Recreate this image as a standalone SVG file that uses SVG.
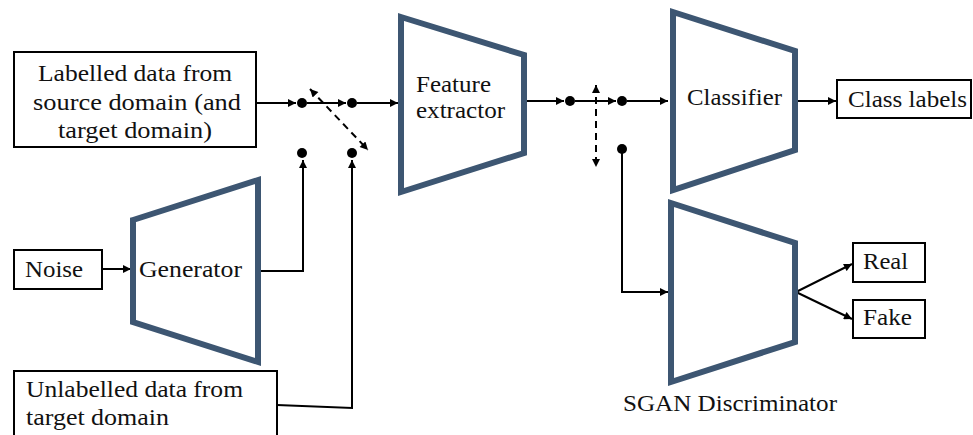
<svg xmlns="http://www.w3.org/2000/svg" width="973" height="435" viewBox="0 0 973 435">
  <defs>
    <marker id="arr" viewBox="0 0 10 10" refX="10" refY="5" markerWidth="9" markerHeight="8" markerUnits="userSpaceOnUse" orient="auto-start-reverse">
      <path d="M0,0 L10,5 L0,10 z" fill="#000"/>
    </marker>
    <style>
      .box { fill: #fff; stroke: #000; stroke-width: 2; }
      .trap { fill: #fff; stroke: #3d5672; stroke-width: 6; stroke-linejoin: miter; }
      .txt { font-family: "Liberation Serif", "DejaVu Serif", serif; font-size: 24px; fill: #111; }
      .ln { fill: none; stroke: #000; stroke-width: 2; }
      .dash { fill: none; stroke: #000; stroke-width: 2; stroke-dasharray: 7 5; }
      .dot { fill: #000; }
    </style>
  </defs>
  <rect width="973" height="435" fill="#fff"/>

  <!-- connectors -->
  <g id="connectors">
    <line class="ln" x1="256" y1="103" x2="296" y2="103" marker-end="url(#arr)"/>
    <line class="ln" x1="307" y1="103" x2="346" y2="103" marker-end="url(#arr)"/>
    <line class="ln" x1="357" y1="103" x2="398" y2="103" marker-end="url(#arr)"/>
    <line class="dash" x1="310" y1="89" x2="368" y2="150" marker-start="url(#arr)" marker-end="url(#arr)"/>
    <line class="ln" x1="102" y1="269" x2="131" y2="269" marker-end="url(#arr)"/>
    <polyline class="ln" points="258,271 303,271 303,160" marker-end="url(#arr)"/>
    <polyline class="ln" points="277,405 352,408 352,160" marker-end="url(#arr)"/>
    <line class="ln" x1="525" y1="101" x2="564" y2="101" marker-end="url(#arr)"/>
    <line class="ln" x1="575" y1="101" x2="616" y2="101" marker-end="url(#arr)"/>
    <line class="ln" x1="627" y1="101" x2="668" y2="101" marker-end="url(#arr)"/>
    <line class="dash" x1="596" y1="85" x2="596" y2="167" marker-start="url(#arr)" marker-end="url(#arr)"/>
    <polyline class="ln" points="622,150 622,292 668,292" marker-end="url(#arr)"/>
    <line class="ln" x1="797" y1="101" x2="836" y2="101" marker-end="url(#arr)"/>
    <line class="ln" x1="796" y1="292" x2="852" y2="264" marker-end="url(#arr)"/>
    <line class="ln" x1="796" y1="292" x2="852" y2="319" marker-end="url(#arr)"/>
    <circle class="dot" cx="302" cy="103" r="5"/>
    <circle class="dot" cx="352" cy="103" r="5"/>
    <circle class="dot" cx="302" cy="153" r="5"/>
    <circle class="dot" cx="352" cy="153" r="5"/>
    <circle class="dot" cx="570" cy="101" r="5"/>
    <circle class="dot" cx="622" cy="101" r="5"/>
    <circle class="dot" cx="622" cy="149" r="5"/>
  </g>

  <!-- labelled input -->
  <g id="labelled-data">
    <rect class="box" x="14" y="52" width="242" height="95"/>
    <text class="txt" x="38" y="81" textLength="194" lengthAdjust="spacingAndGlyphs">Labelled data from</text>
    <text class="txt" x="33" y="110" textLength="208" lengthAdjust="spacingAndGlyphs">source domain (and</text>
    <text class="txt" x="58" y="138" textLength="154" lengthAdjust="spacingAndGlyphs">target domain)</text>
  </g>

  <g id="noise">
    <rect class="box" x="14" y="250" width="88" height="39"/>
    <text class="txt" x="25" y="277" textLength="58" lengthAdjust="spacingAndGlyphs">Noise</text>
  </g>

  <g id="generator">
    <polygon class="trap" points="133,220 258,180 258,362 133,322"/>
    <text class="txt" x="139" y="277" textLength="103" lengthAdjust="spacingAndGlyphs">Generator</text>
  </g>

  <g id="unlabelled-data">
    <rect class="box" x="14" y="371" width="263" height="80"/>
    <text class="txt" x="26" y="397" textLength="217" lengthAdjust="spacingAndGlyphs">Unlabelled data from</text>
    <text class="txt" x="26" y="425" textLength="143" lengthAdjust="spacingAndGlyphs">target domain</text>
  </g>

  <g id="feature-extractor">
    <polygon class="trap" points="401,17 524,55 524,153 401,192"/>
    <text class="txt" x="416" y="92" textLength="75" lengthAdjust="spacingAndGlyphs">Feature</text>
    <text class="txt" x="416" y="118" textLength="89" lengthAdjust="spacingAndGlyphs">extractor</text>
  </g>

  <g id="classifier">
    <polygon class="trap" points="673,12 795,51 795,150 673,190"/>
    <text class="txt" x="687" y="105" textLength="95" lengthAdjust="spacingAndGlyphs">Classifier</text>
  </g>

  <g id="class-labels">
    <rect class="box" x="837" y="80" width="134" height="38"/>
    <text class="txt" x="848" y="107" textLength="119" lengthAdjust="spacingAndGlyphs">Class labels</text>
  </g>

  <g id="discriminator">
    <polygon class="trap" points="671,203 795,243 795,342 671,382"/>
    <text class="txt" x="623" y="411" textLength="214" lengthAdjust="spacingAndGlyphs">SGAN Discriminator</text>
  </g>

  <g id="real">
    <rect class="box" x="853" y="243" width="72" height="39"/>
    <text class="txt" x="863" y="269" textLength="45" lengthAdjust="spacingAndGlyphs">Real</text>
  </g>

  <g id="fake">
    <rect class="box" x="853" y="300" width="72" height="38"/>
    <text class="txt" x="863" y="325" textLength="49" lengthAdjust="spacingAndGlyphs">Fake</text>
  </g>
</svg>
